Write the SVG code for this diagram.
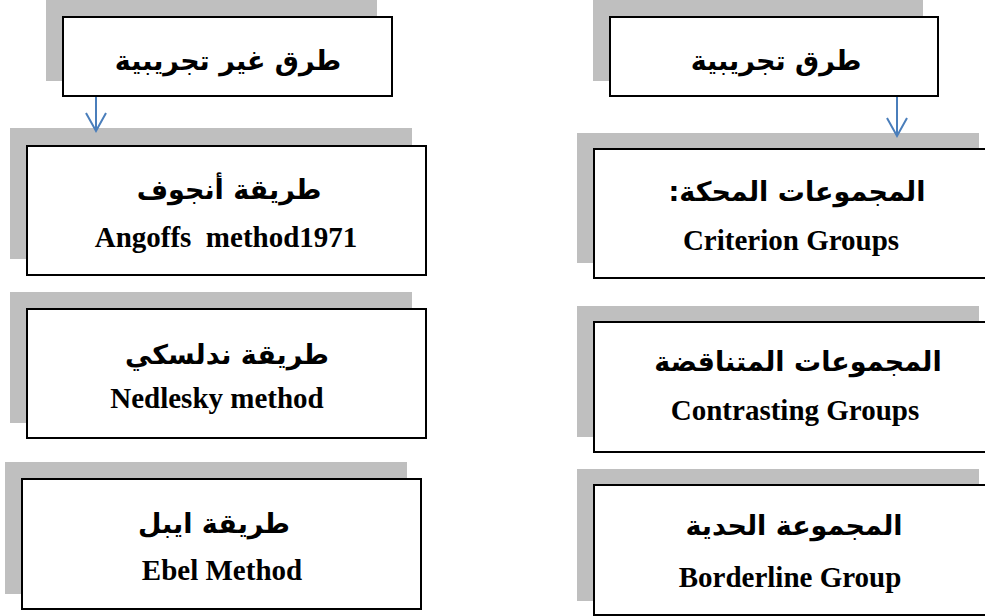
<svg xmlns="http://www.w3.org/2000/svg" width="985" height="616" viewBox="0 0 985 616">
  <defs>
    <style>
      .shadow { fill: #bfbfbf; }
      .box { fill: #ffffff; stroke: #000000; stroke-width: 2; }
      .ar { font-family: "DejaVu Sans", "Noto Sans", sans-serif; font-weight: bold; font-size: 27px; fill: #000; text-anchor: middle; direction: rtl; }
      .en { font-family: "Liberation Serif", "Times New Roman", serif; font-weight: bold; font-size: 29px; fill: #000; text-anchor: middle; }
      .conn { fill: none; stroke: #4a7ebb; stroke-width: 2; }
    </style>
  </defs>
  <rect width="985" height="616" fill="#ffffff"/>

  <g id="node-nonempirical">
    <rect class="shadow" x="46" y="0" width="331" height="81"/>
    <rect class="box" x="63" y="17" width="329" height="79"/>
    <text class="ar" x="228" y="70">طرق غير تجريبية</text>
  </g>

  <g id="node-empirical">
    <rect class="shadow" x="593" y="0" width="330" height="81"/>
    <rect class="box" x="610" y="17" width="328" height="79"/>
    <text class="ar" x="776" y="70">طرق تجريبية</text>
  </g>

  <g id="node-angoff">
    <rect class="shadow" x="10" y="128" width="402" height="131"/>
    <rect class="box" x="27" y="146" width="399" height="129"/>
    <text class="ar" x="229" y="199">طريقة أنجوف</text>
    <text class="en" x="226" y="247" xml:space="preserve">Angoffs  method1971</text>
  </g>

  <g id="node-criterion">
    <rect class="shadow" x="577" y="133" width="402" height="130"/>
    <rect class="box" x="594" y="149" width="400" height="129"/>
    <text class="ar" x="797" y="201">المجموعات المحكة:</text>
    <text class="en" x="791" y="250">Criterion Groups</text>
  </g>

  <g id="node-nedelsky">
    <rect class="shadow" x="10" y="292" width="402" height="131"/>
    <rect class="box" x="27" y="309" width="399" height="129"/>
    <text class="ar" x="227" y="364">طريقة ندلسكي</text>
    <text class="en" x="217" y="408">Nedlesky method</text>
  </g>

  <g id="node-contrasting">
    <rect class="shadow" x="577" y="306" width="402" height="131"/>
    <rect class="box" x="594" y="322" width="400" height="130"/>
    <text class="ar" x="798" y="371">المجموعات المتناقضة</text>
    <text class="en" x="795" y="420">Contrasting Groups</text>
  </g>

  <g id="node-ebel">
    <rect class="shadow" x="5" y="462" width="402" height="132"/>
    <rect class="box" x="22" y="479" width="399" height="130"/>
    <text class="ar" x="214" y="533">طريقة ايبل</text>
    <text class="en" x="222" y="580">Ebel Method</text>
  </g>

  <g id="node-borderline">
    <rect class="shadow" x="577" y="469" width="402" height="132"/>
    <rect class="box" x="594" y="485" width="400" height="130"/>
    <text class="ar" x="794" y="535">المجموعة الحدية</text>
    <text class="en" x="790" y="587">Borderline Group</text>
  </g>

  <g id="connectors">
    <path class="conn" d="M96,97 V131 M86,113 L96,131 L106,113"/>
    <path class="conn" d="M897,97 V136 M887,118 L897,136 L907,118"/>
  </g>
</svg>
